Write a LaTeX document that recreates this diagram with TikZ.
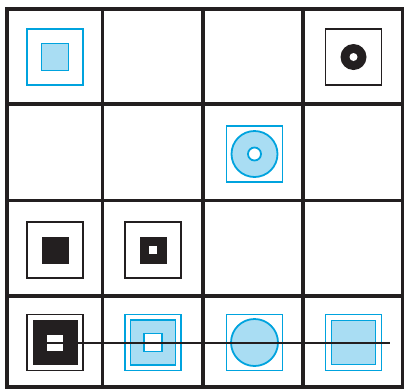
\documentclass[tikz,border=0pt]{standalone}
\usepackage{xcolor}
\usepackage{tikz}
\usetikzlibrary{positioning}
\definecolor{cellblue}{HTML}{00A3DE}
\definecolor{lightcyan}{HTML}{A9DDF3}
\definecolor{inkblack}{HTML}{231F20}

\begin{document}
\begin{tikzpicture}[x=1pt, y=-1pt,
  gridline/.style={draw=inkblack, line width=3.6pt, line cap=rect},
  frame/.style={rectangle, line width=1.8pt, minimum size=56pt, inner sep=0pt},
  blueframe/.style={frame, draw=cellblue},
  blackframe/.style={frame, draw=inkblack},
  bluebox/.style={rectangle, draw=cellblue, fill=lightcyan, line width=1.8pt, inner sep=0pt},
  blackbox/.style={rectangle, fill=inkblack, inner sep=0pt},
  hole/.style={rectangle, fill=white, inner sep=0pt},
  disc/.style={circle, inner sep=0pt},
  track/.style={draw=inkblack, line width=2pt},
]
\useasboundingbox (0,0) rectangle (404,389);

% Grid
\draw[gridline] (7,9) rectangle (402.5,387);
\foreach \gx in {102.5,203,303} \draw[gridline] (\gx,9) -- (\gx,387);
\foreach \gy in {104,200.5,296} \draw[gridline] (7,\gy) -- (402.5,\gy);

% Row 1
\node[blueframe] (ra) at (55,57) {};
\node[bluebox, minimum size=27pt] (raf) at (ra.center) {};
\node[blackframe] (rd) at (353.5,57) {};
\node[disc, fill=inkblack, minimum size=26pt] (rdc) at (rd.center) {};
\node[disc, fill=white, minimum size=8pt] (rdh) at (rd.center) {};

% Row 2
\node[blueframe] (sc) at (254.5,154) {};
\node[disc, draw=cellblue, fill=lightcyan, line width=1.8pt, minimum size=46pt] (scc) at (sc.center) {};
\node[disc, draw=cellblue, fill=white, line width=1.8pt, minimum size=13pt] (sch) at (sc.center) {};

% Row 3
\node[blackframe] (ta) at (55,250) {};
\node[blackbox, minimum size=27pt] (taf) at (ta.center) {};
\node[blackframe] (tb) at (153,250) {};
\node[blackbox, minimum size=27pt] (tbf) at (tb.center) {};
\node[hole, minimum size=8pt] (tbh) at (tb.center) {};

% Row 4
\node[blueframe] (ub) at (153,342.5) {};
\node[bluebox, minimum size=45pt] (ubf) at (ub.center) {};
\node[rectangle, draw=cellblue, fill=white, line width=1.8pt, minimum size=18pt] (ubh) at (ub.center) {};
\node[blueframe] (uc) at (254.5,342.5) {};
\node[disc, draw=cellblue, fill=lightcyan, line width=1.8pt, minimum size=47pt] (ucc) at (uc.center) {};
\node[blueframe] (ud) at (353.5,342.5) {};
\node[bluebox, minimum size=44pt] (udf) at (ud.center) {};
\coordinate (trackend) at (390,342.5);

\node[blackframe] (ua) at (55,342.5) {};
\node[blackbox, minimum size=45pt] (uaf) at (ua.center) {};
\draw[track] (uaf.east) -- (trackend);
\node[hole, minimum width=16pt, minimum height=7pt] (uah) at (55,338.5) {};
\node[hole, minimum width=16pt, minimum height=7pt] (ual) at (55,347.5) {};

\end{tikzpicture}
\end{document}
